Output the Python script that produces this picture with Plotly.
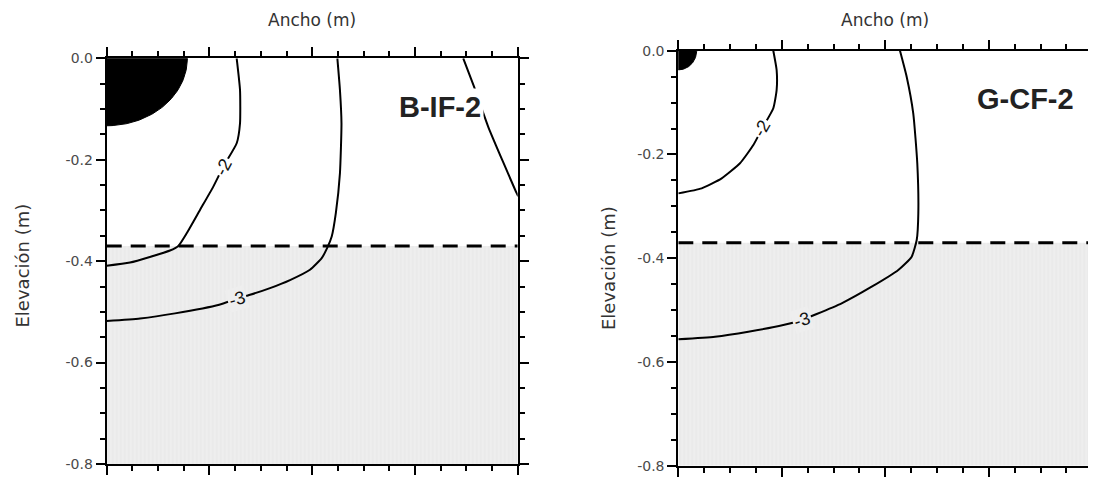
import numpy as np
import plotly.graph_objects as go

# ---------------- data ----------------
x_range = [0.0, 0.8]
y_range = [-0.8, 0.0]
x_major = [0.0, 0.2, 0.4, 0.6, 0.8]
x_minor = [0.05, 0.1, 0.15, 0.25, 0.3, 0.35, 0.45, 0.5, 0.55, 0.65, 0.7, 0.75]
y_major = [-0.8, -0.6, -0.4, -0.2, 0.0]
y_major_text = ["-0.8", "-0.6", "-0.4", "-0.2", "0.0"]
y_minor = [-0.75, -0.7, -0.65, -0.55, -0.5, -0.45, -0.35, -0.3, -0.25, -0.15, -0.1, -0.05]

panel_names = ["B-IF-2", "G-CF-2"]
interface_depth = [-0.37, -0.37]

# electrode (black quarter) radii: [x-radius, y-radius]
b_electrode = [0.157, 0.133]
g_electrode = [0.0355, 0.037]

# B-IF-2 contours
b_neg2_x = [0.253, 0.2595, 0.2595, 0.253, 0.227, 0.2075, 0.1816, 0.1557, 0.1394, 0.1232, 0.0454, 0.0]
b_neg2_y = [0.0, -0.0625, -0.128, -0.1675, -0.2136, -0.253, -0.299, -0.345, -0.370, -0.379, -0.4028, -0.409]
b_neg3_x = [0.449, 0.454, 0.457, 0.454, 0.446, 0.438, 0.429, 0.4185, 0.3957, 0.3568, 0.3179, 0.279, 0.253, 0.219, 0.133, 0.065, 0.0]
b_neg3_y = [0.0, -0.0625, -0.128, -0.2266, -0.3054, -0.3515, -0.3744, -0.394, -0.417, -0.4373, -0.4532, -0.4664, -0.474, -0.486, -0.503, -0.513, -0.518]
b_edge_x = [0.694, 0.715, 0.743, 0.798, 0.801]
b_edge_y = [0.0, -0.056, -0.136, -0.266, -0.272]

# G-CF-2 contours
g_neg2_x = [0.1836, 0.190, 0.190, 0.1836, 0.1623, 0.145, 0.1192, 0.0838, 0.0452, 0.0]
g_neg2_y = [0.0, -0.0372, -0.0758, -0.111, -0.1496, -0.1818, -0.217, -0.246, -0.2653, -0.275]
g_neg3_x = [0.4284, 0.4413, 0.454, 0.4618, 0.4638, 0.4607, 0.451, 0.4251, 0.3737, 0.3157, 0.2674, 0.2385, 0.2029, 0.1353, 0.0709, 0.0]
g_neg3_y = [0.0, -0.0501, -0.1207, -0.217, -0.3134, -0.365, -0.397, -0.4227, -0.455, -0.487, -0.5076, -0.519, -0.5288, -0.5417, -0.5513, -0.5563]

# contour labels: text, x, y, angle
b_labels_text = ["-2", "-3"]
b_labels_x = [0.227, 0.253]
b_labels_y = [-0.2136, -0.474]
b_labels_angle = [-62, -17]
g_labels_text = ["-2", "-3"]
g_labels_x = [0.1623, 0.2385]
g_labels_y = [-0.1496, -0.519]
g_labels_angle = [-60, -18]

panel_label_x = [0.649, 0.67]
panel_label_y = [-0.0954, -0.093]

# ---------------- figure ----------------
# the page body keeps its default 8px margin, so the figure is drawn 8px smaller
OFF = 8
W, H = 1096 - OFF, 478 - OFF
fig = go.Figure()

SHADE_BG = "#eeeeee"


def add_panel(xr, yr, electrode, lines, labels, pname, plx, ply):
    # shaded lower layer
    fig.add_trace(go.Scatter(
        x=[x_range[0], x_range[1], x_range[1], x_range[0], x_range[0]],
        y=[interface_depth[0], interface_depth[1], y_range[0], y_range[0], interface_depth[0]],
        mode="lines", fill="toself", line=dict(width=0),
        fillcolor=SHADE_BG,
        fillpattern=dict(shape="|", bgcolor=SHADE_BG, fgcolor="#e2e2e2", size=4, solidity=0.35),
        xaxis=xr, yaxis=yr, hoverinfo="skip", showlegend=False))
    # electrode
    th = np.linspace(0, np.pi / 2, 60)
    ex = np.concatenate([[0.0], electrode[0] * np.cos(th), [0.0]])
    ey = np.concatenate([[0.0], -electrode[1] * np.sin(th), [0.0]])
    fig.add_trace(go.Scatter(x=ex, y=ey, mode="lines", fill="toself",
                             fillcolor="black", line=dict(color="black", width=1),
                             xaxis=xr, yaxis=yr, hoverinfo="skip", showlegend=False))
    # contour lines
    for lx, ly in lines:
        fig.add_trace(go.Scatter(x=lx, y=ly, mode="lines",
                                 line=dict(color="black", width=2, shape="spline", smoothing=0.5),
                                 xaxis=xr, yaxis=yr, hoverinfo="skip", showlegend=False))
    # interface dashed line
    fig.add_trace(go.Scatter(x=x_range, y=interface_depth, mode="lines",
                             line=dict(color="black", width=3, dash="15px,9px"),
                             xaxis=xr, yaxis=yr, hoverinfo="skip", showlegend=False))
    for t, lx, ly, ang in zip(*labels):
        bg = "white" if ly > interface_depth[0] else SHADE_BG
        fig.add_annotation(x=lx, y=ly, xref=xr, yref=yr, text=t, showarrow=False,
                           xanchor="center", yanchor="middle",
                           textangle=ang, bgcolor=bg, borderpad=1,
                           font=dict(family="Liberation Sans", size=18, color="#111"))
    fig.add_annotation(x=plx, y=ply, xref=xr, yref=yr, text=pname, showarrow=False,
                       xanchor="center", yanchor="middle",
                       bgcolor="white", borderpad=2,
                       font=dict(family="Liberation Sans", size=29, color="#222", weight="bold"))


add_panel("x", "y", b_electrode,
          [(b_neg2_x, b_neg2_y), (b_neg3_x, b_neg3_y), (b_edge_x, b_edge_y)],
          (b_labels_text, b_labels_x, b_labels_y, b_labels_angle),
          panel_names[0], panel_label_x[0], panel_label_y[0])
add_panel("x2", "y2", g_electrode,
          [(g_neg2_x, g_neg2_y), (g_neg3_x, g_neg3_y)],
          (g_labels_text, g_labels_x, g_labels_y, g_labels_angle),
          panel_names[1], panel_label_x[1], panel_label_y[1])

common = dict(showline=True, linecolor="black", linewidth=2, mirror="allticks",
              ticks="outside", ticklen=9, tickwidth=2, tickcolor="black",
              showgrid=False, zeroline=False, automargin=False)
minor_x = dict(tickmode="array", tickvals=x_minor, ticks="outside", ticklen=5,
               tickwidth=1.5, tickcolor="black", showgrid=False)
minor_y = dict(tickmode="array", tickvals=y_minor, ticks="outside", ticklen=5,
               tickwidth=1.5, tickcolor="black", showgrid=False)
tickfont = dict(family="DejaVu Sans", size=14, color="#4a4a4a")

# target pixel geometry in the 1096x478 window, shifted by the body margin
L1, R1, T1, B1 = 106.7 - OFF, 517.7 - OFF, 58.3 - OFF, 464.0 - OFF
L2, R2, T2, B2 = 678.3 - OFF, 1092.3 - OFF, 50.7 - OFF, 465.7 - OFF

fig.update_layout(
    width=W, height=H, margin=dict(l=0, r=0, t=0, b=0, autoexpand=False),
    plot_bgcolor="white", paper_bgcolor="white", showlegend=False,
    xaxis=dict(domain=[L1 / W, R1 / W], range=x_range, side="top", anchor="y",
               showticklabels=False, tickmode="array", tickvals=x_major, minor=minor_x, **common),
    yaxis=dict(domain=[1 - B1 / H, 1 - T1 / H], range=y_range, anchor="x",
               tickmode="array", tickvals=y_major, ticktext=y_major_text, tickfont=tickfont,
               minor=minor_y, **common),
    xaxis2=dict(domain=[L2 / W, R2 / W], range=x_range, side="top", anchor="y2",
                showticklabels=False, tickmode="array", tickvals=x_major, minor=minor_x, **common),
    yaxis2=dict(domain=[1 - B2 / H, 1 - T2 / H], range=y_range, anchor="x2",
                tickmode="array", tickvals=y_major, ticktext=y_major_text, tickfont=tickfont,
                minor=minor_y, **common),
)

title_font = dict(family="DejaVu Sans", size=17, color="#333")
ytitle_font = dict(family="DejaVu Sans", size=18, color="#333")
for cx in [(L1 + R1) / 2, (L2 + R2) / 2]:
    fig.add_annotation(x=cx / W, y=1 - (20 - OFF) / H, xref="paper", yref="paper",
                       xanchor="center", yanchor="middle",
                       text="Ancho (m)", showarrow=False, font=title_font)
for cx, cy in [(21.5, 266), (608, 268)]:
    fig.add_annotation(x=(cx - OFF) / W, y=1 - (cy - OFF) / H, xref="paper", yref="paper",
                       xanchor="center", yanchor="middle",
                       text="Elevación (m)", showarrow=False, textangle=-90, font=ytitle_font)

fig.write_html("out.html")
